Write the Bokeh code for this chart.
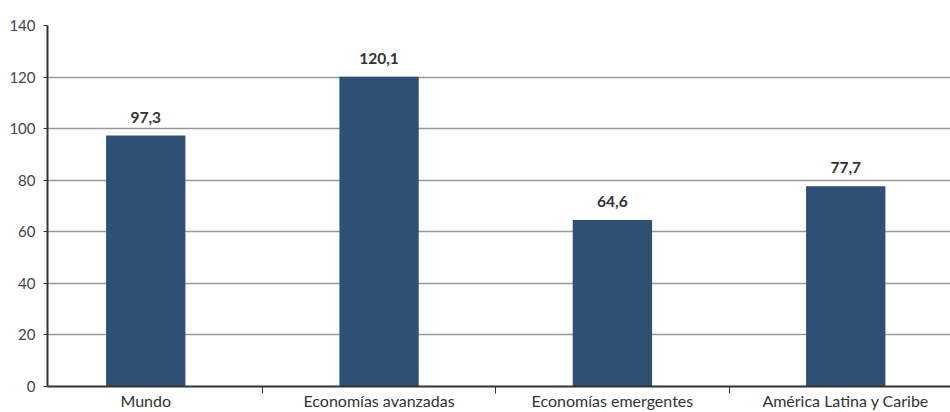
from bokeh.plotting import figure
from bokeh.models import ColumnDataSource, FixedTicker, Range1d, LabelSet
from bokeh.core.properties import value
from bokeh.embed import file_html
from bokeh.resources import INLINE

categories = ["Mundo", "Economías avanzadas", "Economías emergentes", "América Latina y Caribe"]
values = [97.3, 120.1, 64.6, 77.7]
value_labels = ["97,3", "120,1", "64,6", "77,7"]
y_ticks = [0, 20, 40, 60, 80, 100, 120, 140]

xs = [i + 0.5 for i in range(len(categories))]
src = ColumnDataSource(dict(x=xs, top=values, lab=value_labels))

p = figure(width=950, height=412, output_backend="svg", toolbar_location=None,
           x_range=Range1d(0.079, 3.949), y_range=Range1d(0, 140),
           min_border_left=47, min_border_right=0, min_border_top=25, min_border_bottom=26)
p.outline_line_color = None
p.background_fill_color = "white"

p.vbar(x="x", top="top", bottom=0, width=0.34, source=src, fill_color="#2E5075", line_color=None)

labels = LabelSet(x="x", y="top", text="lab", source=src, text_align="center",
                  text_baseline="alphabetic", y_offset=13, text_font=value("Lato"),
                  text_font_style="bold", text_font_size="15.5px", text_color="#333333")
p.add_layout(labels)

p.xaxis.ticker = FixedTicker(ticks=xs, minor_ticks=[1, 2, 3])
p.xaxis.major_label_overrides = {x: c for x, c in zip(xs, categories)}
p.xaxis.major_label_text_font = "Lato"
p.xaxis.major_label_text_font_size = "16px"
p.xaxis.major_label_text_color = "#333333"
p.xaxis.major_label_standoff = -3
p.xaxis.major_tick_out = 0
p.xaxis.major_tick_in = 0
p.xaxis.minor_tick_out = 7
p.xaxis.minor_tick_in = 0
p.xaxis.minor_tick_line_color = "#333333"
p.xaxis.axis_line_color = "#333333"
p.xaxis.axis_line_width = 2
p.xgrid.grid_line_color = None

p.yaxis.ticker = FixedTicker(ticks=y_ticks)
p.yaxis.minor_tick_line_color = None
p.yaxis.major_tick_out = 4
p.yaxis.major_tick_in = 0
p.yaxis.major_tick_line_color = "#333333"
p.yaxis.axis_line_color = "#333333"
p.yaxis.axis_line_width = 2
p.yaxis.major_label_text_font = "Lato"
p.yaxis.major_label_text_font_size = "15px"
p.yaxis.major_label_text_color = "#444444"
p.yaxis.major_label_standoff = 8
p.ygrid.grid_line_color = "#999999"
p.ygrid.grid_line_width = 1.5

open("out.html", "w").write(file_html(p, INLINE))
